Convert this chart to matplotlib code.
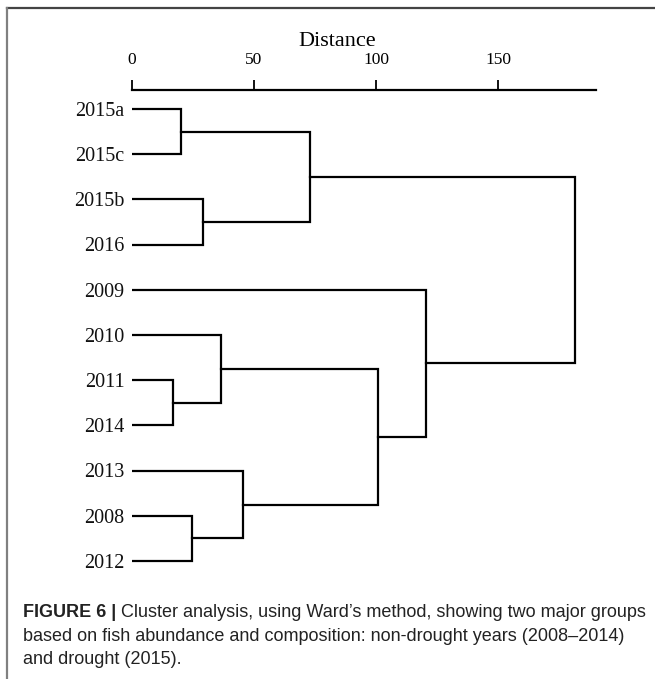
import matplotlib
matplotlib.use("Agg")
import matplotlib.pyplot as plt
from matplotlib.lines import Line2D

# leaves in display order (top to bottom)
leaves = ['2015a', '2015c', '2015b', '2016', '2009', '2010',
          '2011', '2014', '2013', '2008', '2012']
# merges: ids < 11 are leaves, 11+ are earlier merges
merge_left = [0, 2, 11, 6, 5, 9, 8, 15, 4, 13]
merge_right = [1, 3, 12, 7, 14, 10, 16, 17, 18, 19]
merge_dist = [20, 29, 73, 17, 36.5, 24.5, 45.5, 101, 120.5, 181.5]
xticks = [0, 50, 100, 150]

W, H = 655, 679
fig = plt.figure(figsize=(W / 100, H / 100), dpi=100)

# frame lines of the figure panel
fig.add_artist(Line2D([7 / W, 1], [1 - 8 / H, 1 - 8 / H], color='#444444', lw=1.6))
fig.add_artist(Line2D([7 / W, 7 / W], [0, 1 - 8 / H], color='#808080', lw=1.6))

ax = fig.add_axes([132 / W, 1 - 580 / H, 488 / W, 490 / H])
ax.set_xlim(0, 200)
ax.set_ylim(len(leaves) - 1 + 0.42, -0.42)

ypos = {i: float(i) for i in range(len(leaves))}
xpos = {i: 0.0 for i in range(len(leaves))}
for k in range(len(merge_dist)):
    a, b, h = merge_left[k], merge_right[k], merge_dist[k]
    ax.plot([xpos[a], h, h, xpos[b]], [ypos[a], ypos[a], ypos[b], ypos[b]],
            color='black', lw=1.6, solid_joinstyle='miter')
    node = len(leaves) + k
    ypos[node] = (ypos[a] + ypos[b]) / 2
    xpos[node] = h

for i, name in enumerate(leaves):
    ax.text(-3, i + 0.05, name, ha='right', va='center', fontsize=14.5,
            family='Liberation Serif', color='#111111')

for s in ['left', 'right', 'bottom']:
    ax.spines[s].set_visible(False)
ax.spines['top'].set_bounds(0, 190)
ax.spines['top'].set_linewidth(1.6)
ax.xaxis.tick_top()
ax.set_xticks(xticks)
ax.set_xticklabels([str(v) for v in xticks], family='Liberation Serif', fontsize=12.5)
ax.tick_params(axis='x', direction='out', length=7, width=1.3, pad=9)
ax.set_yticks([])

fig.text(337 / W, 1 - 46 / H, 'Distance', ha='center', va='baseline',
         family='Liberation Serif', fontsize=16)

# caption
cap_col = '#222222'
cap_fs = 13
t1 = fig.text(23 / W, 1 - 617 / H, 'FIGURE 6 | ', fontweight='bold',
              family='Liberation Sans', fontsize=cap_fs, color=cap_col, va='baseline')
ax.annotate('Cluster analysis, using Ward\u2019s method, showing two major groups',
            xy=(1, 0), xycoords=t1, va='bottom', ha='left',
            family='Liberation Sans', fontsize=cap_fs, color=cap_col)
fig.text(23 / W, 1 - 641 / H,
         'based on fish abundance and composition: non-drought years (2008\u20132014)',
         family='Liberation Sans', fontsize=cap_fs, color=cap_col, va='baseline')
fig.text(23 / W, 1 - 664 / H, 'and drought (2015).',
         family='Liberation Sans', fontsize=cap_fs, color=cap_col, va='baseline')

fig.savefig('out.png', dpi=100)
